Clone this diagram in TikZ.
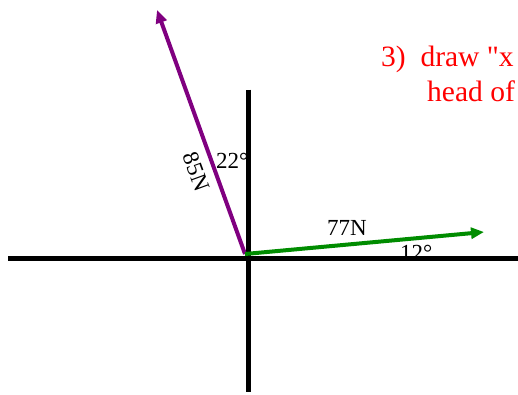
\documentclass[tikz,border=0pt]{standalone}
\usepackage{fontspec}
\setmainfont{Liberation Serif}
\newfontfamily\notefont{Liberation Serif}[Ligatures=TeXOff]
\usetikzlibrary{arrows.meta}
\definecolor{vpurple}{RGB}{128,0,128}
\definecolor{vgreen}{RGB}{0,140,0}
\begin{document}
\begin{tikzpicture}[x=1pt,y=-1pt,
  axis/.style={line width=4.5pt,black},
  vec/.style={line width=4pt,-{Triangle[length=13pt,width=11pt]}},
  lbl/.style={font=\fontsize{23}{27}\selectfont,inner sep=0pt,anchor=base west},
  note/.style={font=\notefont\fontsize{29.5}{34}\selectfont,text=red,inner sep=0pt,anchor=base west}]
\useasboundingbox (0,0) rectangle (518,394);
% axes
\coordinate (xl) at (8,258.5);
\coordinate (xr) at (530,258.5);
\coordinate (yt) at (248.5,89.5);
\coordinate (yb) at (248.5,392);
\draw[axis] (xl) -- (xr);
\draw[axis] (yt) -- (yb);
% vectors
\coordinate (O) at (245,254);
\coordinate (P) at (157,10);
\coordinate (G) at (484,232);
\draw[vec,vpurple] (O) -- (P);
\draw[vec,vgreen] (O) -- (G);
% labels
\node[lbl] (a22) at (216,168) {22°};
\node[inner sep=0pt,font=\fontsize{23}{27}\selectfont,rotate=-70] (n85) at (196,172) {85N};
\node[lbl] (n77) at (327,235) {77N};
\node[lbl] (a12) at (400,260) {12°};
% note
\node[note] (t1) at (381,66) {3)\hspace{0.5em}draw "x};
\node[note] (t2) at (427,101) {head of};
\end{tikzpicture}
\end{document}
